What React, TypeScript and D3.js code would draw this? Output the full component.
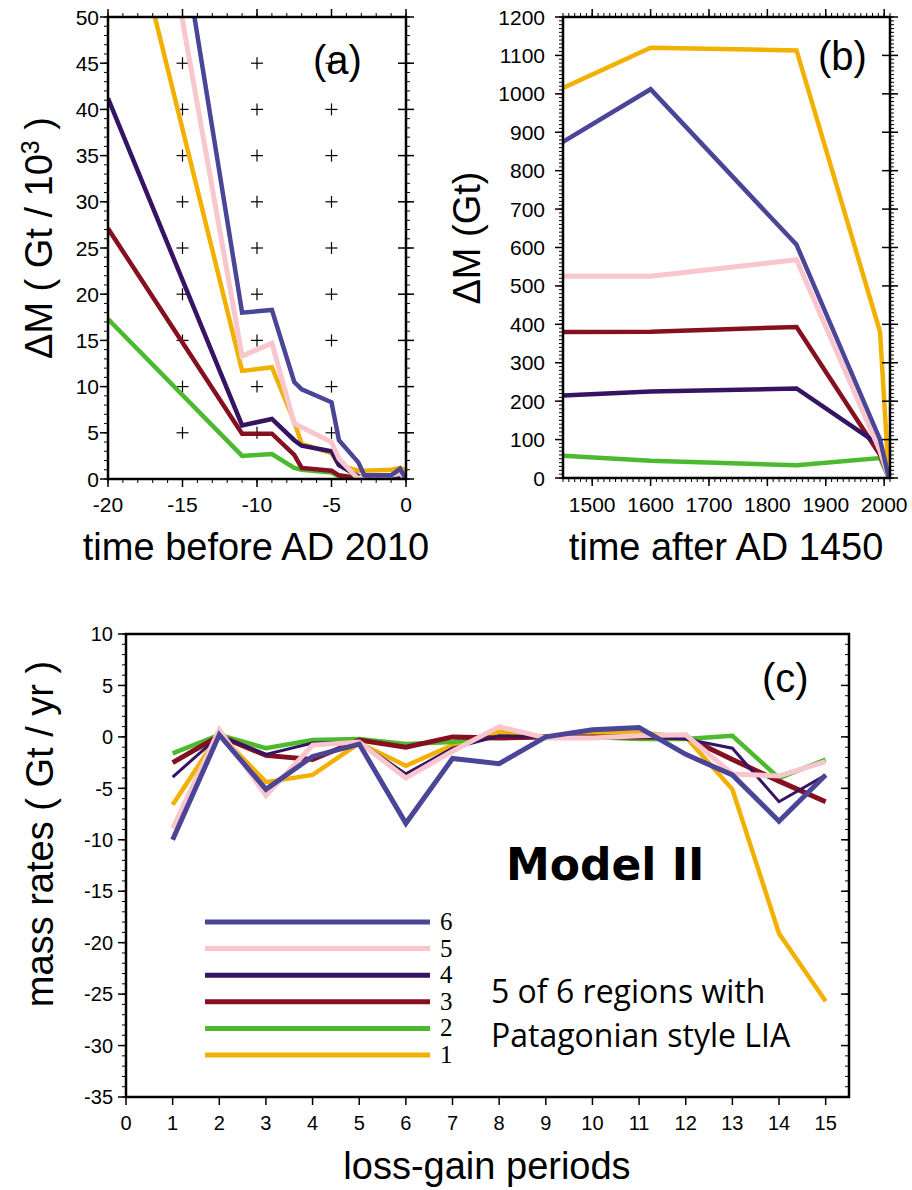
import * as d3 from "d3";

// region colours, 1..6
const colors = ["#f2b100", "#4cba2f", "#851020", "#341463", "#f8c6cc", "#4b4597"];
const regions = ["1", "2", "3", "4", "5", "6"];

// (a) cumulative mass change, Gt / 10^3, time before AD 2010
const yearsBefore = [-20, -11, -9, -7.5, -7, -5, -4.5, -3.2, -2.8, -1, -0.4, 0];
const recent1 = [70.6, 11.7, 12.1, 6.2, 3.8, 2.8, 1.5, 0.9, 0.9, 1.0, 1.2, 0.9];
const recent2 = [17.3, 2.5, 2.7, 1.2, 1.0, 0.7, 0.3, 0, 0, 0, 0, 0];
const recent3 = [27.1, 4.9, 4.9, 2.6, 1.2, 0.9, 0.4, 0.1, 0.1, 0.1, 0.1, 0];
const recent4 = [41.2, 5.8, 6.5, 4.2, 3.6, 3.0, 1.5, 0.3, 0.2, 0.2, 0.2, 0];
const recent5 = [95, 13.3, 14.7, 6.0, 5.6, 4.0, 2.2, 0, 0.4, 0.4, 0.6, 0];
const recent6 = [108, 18.0, 18.3, 10.5, 9.7, 8.3, 4.2, 1.8, 0.4, 0.4, 1.1, 0];

// (b) mass change, Gt, time after AD 1450
const yearsAfter = [1450, 1600, 1850, 1993, 2008];
const lia1 = [1015, 1120, 1113, 380, 0];
const lia2 = [58, 45, 33, 52, 0];
const lia3 = [380, 381, 393, 60, 0];
const lia4 = [215, 225, 233, 85, 0];
const lia5 = [525, 525, 568, 70, 0];
const lia6 = [875, 1012, 607, 100, 0];

// (c) mass rates, Gt / yr, per loss-gain period
const periods = d3.range(1, 16);
const rate1 = [-6.6, 0.3, -4.4, -3.7, -0.6, -2.8, -0.8, 0.5, 0, 0.4, 0.4, 0, -5.1, -19.1, -25.7];
const rate2 = [-1.6, 0.2, -1.1, -0.3, -0.2, -0.7, -0.5, 0, 0, 0, -0.2, -0.2, 0.1, -4.0, -2.2];
const rate3 = [-2.5, 0.1, -1.8, -2.2, -0.3, -1.0, 0, -0.1, 0, 0, 0, 0, -2.2, -4.3, -6.3];
const rate4 = [-3.9, 0.1, -1.7, -0.6, -0.5, -3.6, -1.1, 0.1, 0, 0, 0, -0.2, -1.1, -6.3, -3.7];
const rate5 = [-8.9, 0.7, -5.7, -0.8, -0.5, -4.0, -1.4, 1.0, -0.1, -0.1, 0.1, 0.2, -3.6, -3.8, -2.4];
const rate6 = [-10.0, 0.2, -5.1, -1.9, -0.7, -8.4, -2.1, -2.6, 0, 0.7, 0.9, -1.7, -3.7, -8.2, -3.7];

const seriesA = [recent1, recent2, recent3, recent4, recent5, recent6];
const seriesB = [lia1, lia2, lia3, lia4, lia5, lia6];
const seriesC = [rate1, rate2, rate3, rate4, rate5, rate6];

const widthsAB = [4.5, 4.5, 4.5, 4.5, 5, 4.5];
const widthsC = [4.5, 4.5, 5, 3, 5, 5];

const font = "'Liberation Sans', Arial, Helvetica, sans-serif";

type Side = "left" | "right" | "top" | "bottom";

// draws tick marks along one side of a frame
const Ticks = ({ scale, values, side, pos, outLen, inLen, sw = 1.5 }: any) => (
	<g stroke="#000" strokeWidth={sw}>
		{values.map((v: number, i: number) => {
			const p = scale(v);
			const s: Side = side;
			if (s === "left") return <line key={i} x1={pos - outLen} x2={pos + inLen} y1={p} y2={p} />;
			if (s === "right") return <line key={i} x1={pos - inLen} x2={pos + outLen} y1={p} y2={p} />;
			if (s === "top") return <line key={i} y1={pos - outLen} y2={pos + inLen} x1={p} x2={p} />;
			return <line key={i} y1={pos - inLen} y2={pos + outLen} x1={p} x2={p} />;
		})}
	</g>
);

const PanelA = () => {
	const x = d3.scaleLinear().domain([-20, 0]).range([108, 406]);
	const y = d3.scaleLinear().domain([0, 50]).range([479, 17]);
	const line = d3.line<number>().x((d, i) => x(yearsBefore[i])).y(d => y(d));
	const majorX = d3.range(-20, 1, 5);
	const minorX = d3.range(-20, 1, 1);
	const majorY = d3.range(0, 51, 5);
	const minorY = d3.range(0, 51, 1);
	const crosses = [-15, -10, -5].flatMap(cx => d3.range(5, 50, 5).map(cy => [cx, cy]));
	return (
		<g>
			<defs>
				<clipPath id="clipA"><rect x={108} y={17} width={298} height={462} /></clipPath>
			</defs>
			{crosses.map(([cx, cy], i) => (
				<g key={i} stroke="#000" strokeWidth={1.2}>
					<line x1={x(cx) - 6} x2={x(cx) + 6} y1={y(cy)} y2={y(cy)} />
					<line x1={x(cx)} x2={x(cx)} y1={y(cy) - 6} y2={y(cy) + 6} />
				</g>
			))}
			<g clipPath="url(#clipA)">
				{seriesA.map((s, i) => (
					<path key={i} d={line(s) ?? ""} fill="none" stroke={colors[i]} strokeWidth={widthsAB[i]} />
				))}
			</g>
			<rect x={108} y={17} width={298} height={462} fill="none" stroke="#000" strokeWidth={2.5} />
			<Ticks scale={y} values={majorY} side="left" pos={108} outLen={8} inLen={0} />
			<Ticks scale={y} values={minorY} side="left" pos={108} outLen={4} inLen={0} sw={1} />
			<Ticks scale={y} values={majorY} side="right" pos={406} outLen={8} inLen={8} />
			<Ticks scale={y} values={minorY} side="right" pos={406} outLen={4} inLen={0} sw={1} />
			<Ticks scale={x} values={majorX} side="bottom" pos={479} outLen={8} inLen={0} />
			<Ticks scale={x} values={minorX} side="bottom" pos={479} outLen={4} inLen={0} sw={1} />
			<Ticks scale={x} values={majorX} side="top" pos={17} outLen={8} inLen={0} />
			<Ticks scale={x} values={minorX} side="top" pos={17} outLen={4} inLen={0} sw={1} />
			<g fontFamily={font} fontSize={21}>
				{majorY.map(v => (
					<text key={v} x={99} y={y(v)} dy="0.36em" textAnchor="end">{v}</text>
				))}
				{majorX.map(v => (
					<text key={v} x={x(v)} y={512} textAnchor="middle">{v}</text>
				))}
			</g>
			<text x={313} y={74} fontFamily={font} fontSize={40}>(a)</text>
			<text x={256} y={560} fontFamily={font} fontSize={38} textAnchor="middle">time before AD 2010</text>
			<text transform="translate(52,238) rotate(-90)" fontFamily={font} fontSize={38} textAnchor="middle">
				ΔM ( Gt / 10<tspan dy={-13} fontSize={25}>3</tspan><tspan dy={13}> )</tspan>
			</text>
		</g>
	);
};

const PanelB = () => {
	const x = d3.scaleLinear().domain([1450, 2010]).range([563, 890]);
	const y = d3.scaleLinear().domain([0, 1200]).range([478, 17]);
	const line = d3.line<number>().x((d, i) => x(yearsAfter[i])).y(d => y(d));
	const majorX = d3.range(1500, 2001, 100);
	const minorX = d3.range(1450, 2011, 10);
	const majorY = d3.range(0, 1201, 100);
	const minorY = d3.range(0, 1201, 10);
	return (
		<g>
			<defs>
				<clipPath id="clipB"><rect x={563} y={17} width={327} height={461} /></clipPath>
			</defs>
			<g clipPath="url(#clipB)">
				{seriesB.map((s, i) => (
					<path key={i} d={line(s) ?? ""} fill="none" stroke={colors[i]} strokeWidth={widthsAB[i]} />
				))}
			</g>
			<rect x={563} y={17} width={327} height={461} fill="none" stroke="#000" strokeWidth={2.5} />
			<Ticks scale={y} values={majorY} side="left" pos={563} outLen={8} inLen={0} />
			<Ticks scale={y} values={minorY} side="left" pos={563} outLen={4} inLen={0} sw={1} />
			<Ticks scale={y} values={majorY} side="right" pos={890} outLen={8} inLen={8} />
			<Ticks scale={y} values={minorY} side="right" pos={890} outLen={4} inLen={0} sw={1} />
			<Ticks scale={x} values={majorX} side="bottom" pos={478} outLen={8} inLen={0} />
			<Ticks scale={x} values={minorX} side="bottom" pos={478} outLen={4} inLen={0} sw={1} />
			<Ticks scale={x} values={majorX} side="top" pos={17} outLen={8} inLen={0} />
			<Ticks scale={x} values={minorX} side="top" pos={17} outLen={4} inLen={0} sw={1} />
			<g fontFamily={font} fontSize={21}>
				{majorY.map(v => (
					<text key={v} x={545} y={y(v)} dy="0.36em" textAnchor="end">{v}</text>
				))}
				{majorX.map(v => (
					<text key={v} x={x(v)} y={512} textAnchor="middle">{v}</text>
				))}
			</g>
			<text x={818} y={70} fontFamily={font} fontSize={40}>(b)</text>
			<text x={726} y={560} fontFamily={font} fontSize={38} textAnchor="middle">time after AD 1450</text>
			<text transform="translate(480,238) rotate(-90)" fontFamily={font} fontSize={38} textAnchor="middle">ΔM (Gt)</text>
		</g>
	);
};

const PanelC = () => {
	const x = d3.scaleLinear().domain([0, 15.5]).range([126, 849]);
	const y = d3.scaleLinear().domain([-35, 10]).range([1097, 634]);
	const line = d3.line<number>().x((d, i) => x(periods[i])).y(d => y(d));
	const majorX = d3.range(0, 16, 1);
	const majorY = d3.range(-35, 11, 5);
	const minorY = d3.range(-35, 11, 1);
	const legendY = d3.scaleLinear().domain([1, 6]).range([1055, 922]);
	return (
		<g>
			{seriesC.map((s, i) => (
				<path key={i} d={line(s) ?? ""} fill="none" stroke={colors[i]} strokeWidth={widthsC[i]} />
			))}
			<rect x={126} y={634} width={723} height={463} fill="none" stroke="#000" strokeWidth={2.5} />
			<Ticks scale={y} values={majorY} side="left" pos={126} outLen={8} inLen={0} />
			<Ticks scale={y} values={minorY} side="left" pos={126} outLen={4} inLen={0} sw={1} />
			<Ticks scale={y} values={majorY} side="right" pos={849} outLen={0} inLen={8} />
			<Ticks scale={y} values={minorY} side="right" pos={849} outLen={0} inLen={4} sw={1} />
			<Ticks scale={x} values={majorX} side="bottom" pos={1097} outLen={8} inLen={0} />
			<g fontFamily={font} fontSize={20}>
				{majorY.map(v => (
					<text key={v} x={113} y={y(v)} dy="0.36em" textAnchor="end">{v}</text>
				))}
				{majorX.map(v => (
					<text key={v} x={x(v)} y={1130} textAnchor="middle">{v}</text>
				))}
			</g>
			{regions.map((r, i) => (
				<g key={r}>
					<line x1={205} x2={430} y1={legendY(i + 1)} y2={legendY(i + 1)} stroke={colors[i]} strokeWidth={5} />
					<text x={440} y={legendY(i + 1) + 8} fontFamily="'Liberation Serif', 'Times New Roman', serif" fontSize={25}>{r}</text>
				</g>
			))}
			<text x={762} y={692} fontFamily={font} fontSize={40}>(c)</text>
			<text x={506} y={880} fontFamily="'DejaVu Sans', Verdana, sans-serif" fontWeight="bold" fontSize={44}>Model II</text>
			<text x={491} y={1003} fontFamily="'Open Sans', sans-serif" fontSize={32}>5 of 6 regions with</text>
			<text x={491} y={1047} fontFamily="'Open Sans', sans-serif" fontSize={32}>Patagonian style LIA</text>
			<text x={487} y={1179} fontFamily={font} fontSize={38} textAnchor="middle">loss-gain periods</text>
			<text transform="translate(53,834) rotate(-90)" fontFamily={font} fontSize={38} textAnchor="middle">mass rates ( Gt / yr )</text>
		</g>
	);
};

export default function App() {
	return (
		<svg width={912} height={1190} style={{ position: "absolute", left: 0, top: 0, background: "#fff" }}>
			<PanelA />
			<PanelB />
			<PanelC />
		</svg>
	);
}
